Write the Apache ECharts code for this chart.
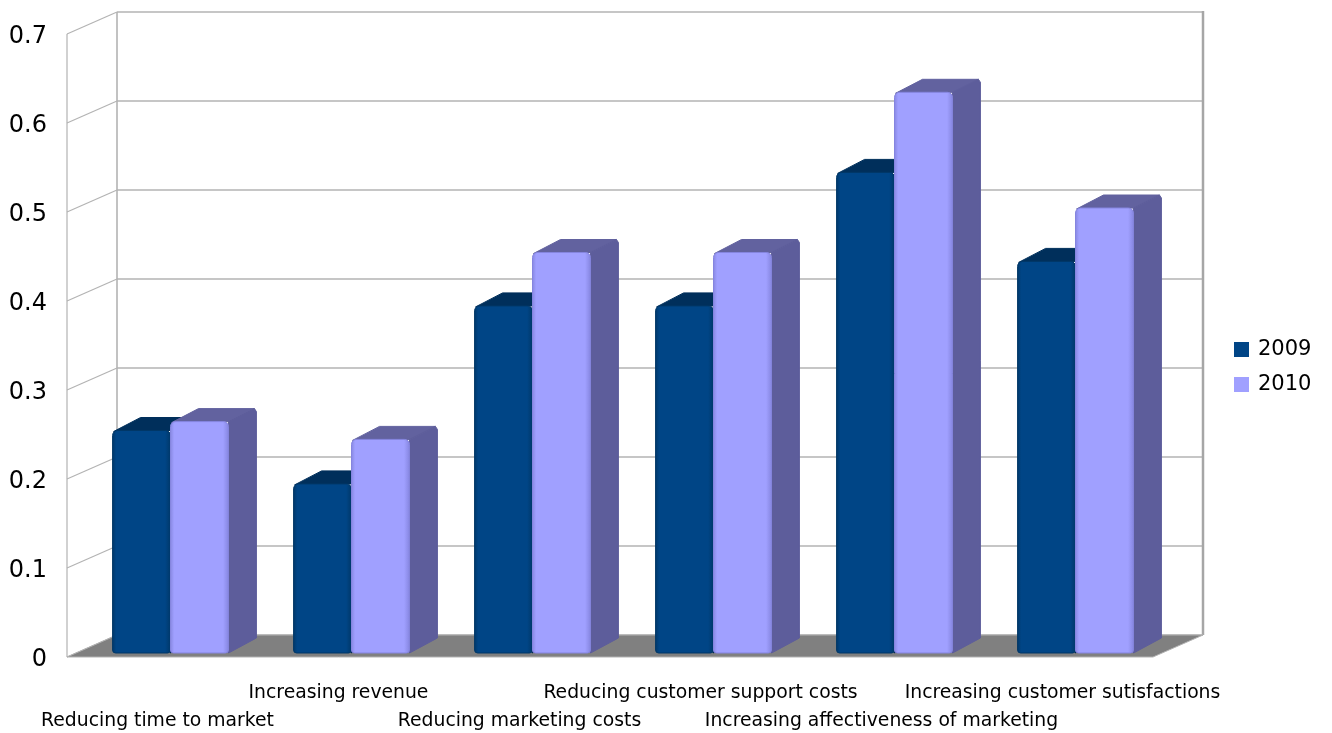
<!DOCTYPE html>
<html>
<head>
<meta charset="utf-8">
<title>Benefits 2009 vs 2010</title>
<script src="https://cdn.jsdelivr.net/npm/echarts@6/dist/echarts.min.js"></script>
<style>
  html, body { margin: 0; padding: 0; background: #ffffff; }
  #chart { width: 1332px; height: 733px; }
</style>
</head>
<body>
<div id="chart"></div>
<script>
// ---- data ----
const categories = [
  'Reducing time to market',
  'Increasing revenue',
  'Reducing marketing costs',
  'Reducing customer support costs',
  'Increasing affectiveness of marketing',
  'Increasing customer sutisfactions'
];
const seriesNames = ['2009', '2010'];
const values2009 = [0.25, 0.19, 0.39, 0.39, 0.54, 0.44];
const values2010 = [0.26, 0.24, 0.45, 0.45, 0.63, 0.50];
const yTickValues = [0, 0.1, 0.2, 0.3, 0.4, 0.5, 0.6, 0.7];
const yTickLabels = ['0', '0.1', '0.2', '0.3', '0.4', '0.5', '0.6', '0.7'];

// ---- pseudo-3D geometry (pixel offsets) ----
const BOX_DEPTH = [50, -22];   // front plane -> back wall
const BAR_SHIFT = [13, -4];    // front plane -> bar front faces
const BAR_DEPTH = [28, -13];   // bar front face -> bar back face
const BAR_RATIO = 0.32;        // bar width as share of the category band

const FONT = 'DejaVu Sans';
const LINE = '#b3b3b3';

const palette = {
  '2009': { front: '#004586', rim: '#003767', top: '#002f5b', side: '#00284f' },
  '2010': { front: '#a0a0ff', rim: '#8585df', top: '#62629f', side: '#5d5d9b' }
};

const chart = echarts.init(document.getElementById('chart'), null, { renderer: 'canvas' });

// walls, floor and grid lines of the 3D box
function renderBox(params, api) {
  const cs = params.coordSys;
  const x0 = cs.x, x1 = cs.x + cs.width;
  const [dx, dy] = BOX_DEPTH;
  const yOf = v => api.coord([0, v])[1];
  const yMin = yOf(yTickValues[0]);
  const yMax = yOf(yTickValues[yTickValues.length - 1]);
  const children = [];
  // left wall
  children.push({
    type: 'polygon',
    shape: { points: [[x0, yMin], [x0, yMax], [x0 + dx, yMax + dy], [x0 + dx, yMin + dy]] },
    style: { fill: '#ffffff', stroke: null }
  });
  // back wall
  children.push({
    type: 'rect',
    shape: { x: x0 + dx, y: yMax + dy, width: x1 - x0, height: yMin - yMax },
    style: { fill: '#ffffff', stroke: null }
  });
  // grid lines: back wall horizontals + left wall diagonals
  yTickValues.forEach(v => {
    const y = yOf(v);
    children.push({
      type: 'line',
      shape: { x1: x0 + dx, y1: y + dy, x2: x1 + dx, y2: y + dy },
      style: { stroke: LINE, lineWidth: 1.5 }
    });
    children.push({
      type: 'line',
      shape: { x1: x0, y1: y, x2: x0 + dx, y2: y + dy },
      style: { stroke: LINE, lineWidth: 1.2 }
    });
  });
  // wall edges
  children.push({
    type: 'line',
    shape: { x1: x0, y1: yMax, x2: x0, y2: yMin },
    style: { stroke: LINE, lineWidth: 1.2 }
  });
  children.push({
    type: 'line',
    shape: { x1: x0 + dx, y1: yMax + dy, x2: x0 + dx, y2: yMin + dy },
    style: { stroke: LINE, lineWidth: 1.6 }
  });
  children.push({
    type: 'line',
    shape: { x1: x1 + dx, y1: yMax + dy - 1, x2: x1 + dx, y2: yMin + dy },
    style: { stroke: '#a6a6a6', lineWidth: 2.5 }
  });
  // floor
  children.push({
    type: 'polygon',
    shape: { points: [[x0, yMin], [x1, yMin], [x1 + dx, yMin + dy], [x0 + dx, yMin + dy]] },
    style: { fill: '#808080', stroke: LINE, lineWidth: 1 }
  });
  return { type: 'group', children };
}

// one 3D bar: top face, side face, rounded front face
function makeBarRenderer(name, slot) {
  const c = palette[name];
  return function (params, api) {
    const idx = api.value(0);
    const val = api.value(1);
    const band = api.size([1, 0])[0];
    const w = band * BAR_RATIO;
    const center = api.coord([idx, 0])[0] + BAR_SHIFT[0];
    const xL = center + (slot === 0 ? -w : 0);
    const xR = xL + w;
    const yB = api.coord([idx, 0])[1] + BAR_SHIFT[1];
    const yT = api.coord([idx, val])[1] + BAR_SHIFT[1];
    const [bx, by] = BAR_DEPTH;
    const r = 5;
    return {
      type: 'group',
      children: [
        {
          type: 'polygon',
          shape: { points: [[xL + 1, yT + 1], [xL + bx, yT + by], [xR + bx - 2, yT + by], [xR, yT]] },
          style: { fill: c.top, stroke: c.top, lineWidth: 1, lineJoin: 'round' }
        },
        {
          type: 'polygon',
          shape: { points: [[xR, yT], [xR + bx - 2, yT + by], [xR + bx, yT + by + 3], [xR + bx, yB + by - 2], [xR + 2, yB - 1], [xR, yB]] },
          style: { fill: c.side, stroke: c.side, lineWidth: 1, lineJoin: 'round' }
        },
        {
          type: 'rect',
          shape: { x: xL, y: yT, width: w, height: yB - yT, r: [r, r, r - 2, r - 2] },
          style: {
            fill: new echarts.graphic.LinearGradient(0, 0, 1, 0, [
              { offset: 0, color: c.rim },
              { offset: 0.07, color: c.front },
              { offset: 0.9, color: c.front },
              { offset: 1, color: c.rim }
            ]),
            stroke: c.rim,
            lineWidth: 1
          }
        }
      ]
    };
  };
}

function barData(values) {
  return values.map((v, i) => [i, v]);
}

const option = {
  animation: false,
  backgroundColor: '#ffffff',
  textStyle: { fontFamily: FONT },
  grid: {
    left: 67,
    top: 34,
    width: 1086,
    height: 623,
    containLabel: false,
    outerBoundsMode: 'none'
  },
  legend: {
    data: seriesNames,
    orient: 'vertical',
    left: 1234,
    top: 339,
    padding: 0,
    icon: 'rect',
    itemWidth: 15,
    itemHeight: 15,
    itemGap: 14,
    textStyle: { fontFamily: FONT, fontSize: 21, color: '#000000', padding: [0, 0, 0, 4] },
    selectedMode: false
  },
  xAxis: {
    type: 'category',
    data: categories,
    boundaryGap: true,
    axisLine: { show: false },
    axisTick: { show: false },
    splitLine: { show: false },
    axisLabel: {
      interval: 0,
      margin: 22,
      fontFamily: FONT,
      fontSize: 18.8,
      lineHeight: 28,
      color: '#000000',
      formatter: (v, i) => (i % 2 === 0 ? '\n' + v : v)
    }
  },
  yAxis: {
    type: 'value',
    min: 0,
    max: 0.7,
    interval: 0.1,
    axisLine: { show: false },
    axisTick: { show: false },
    splitLine: { show: false },
    axisLabel: {
      margin: 20,
      color: '#000000',
      formatter: (v, i) => '{t|' + yTickLabels[i] + '}',
      rich: {
        t: {
          fontFamily: FONT,
          fontSize: 24,
          lineHeight: 24,
          color: '#000000',
          padding: [6, 0, 0, 0]
        }
      }
    }
  },
  series: [
    {
      name: 'box',
      type: 'custom',
      silent: true,
      clip: false,
      z: 1,
      data: [[0, 0]],
      renderItem: renderBox
    },
    {
      name: seriesNames[0],
      type: 'custom',
      clip: false,
      z: 2,
      itemStyle: { color: palette['2009'].front },
      data: barData(values2009),
      renderItem: makeBarRenderer('2009', 0)
    },
    {
      name: seriesNames[1],
      type: 'custom',
      clip: false,
      z: 3,
      itemStyle: { color: palette['2010'].front },
      data: barData(values2010),
      renderItem: makeBarRenderer('2010', 1)
    }
  ]
};

chart.setOption(option);
</script>
</body>
</html>
